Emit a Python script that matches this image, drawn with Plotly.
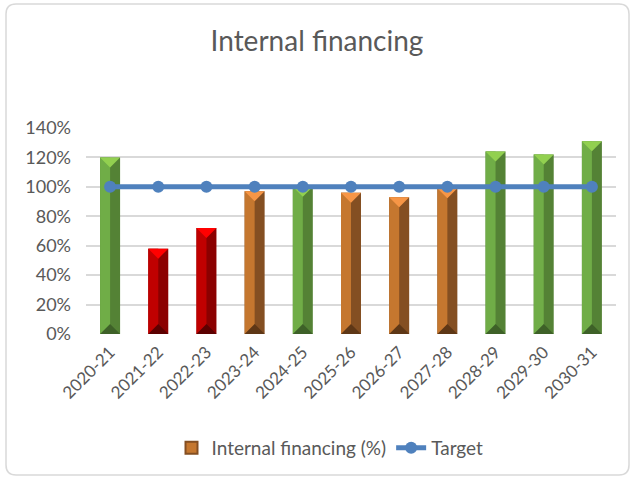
import plotly.graph_objects as go

categories = ["2020-21", "2021-22", "2022-23", "2023-24", "2024-25", "2025-26",
              "2026-27", "2027-28", "2028-29", "2029-30", "2030-31"]
internal_financing = [120, 58, 72, 97, 100, 96, 93, 99, 124, 122, 131]
target = [100, 100, 100, 100, 100, 100, 100, 100, 100, 100, 100]
y_ticks = [0, 20, 40, 60, 80, 100, 120, 140]
y_tick_labels = ["0%", "20%", "40%", "60%", "80%", "100%", "120%", "140%"]

W, H = 634, 479
ML, MR, MT, MB = 86, 18, 128, 145
BAR_W = 0.415
BEVEL = 6.8  # bevel height in y units

PALETTES = {
    "green": dict(left="#70AD47", right="#548235", top="#92D050", bottom="#3E6128"),
    "orange": dict(left="#C5772F", right="#844F22", top="#F79646", bottom="#5E3716"),
    "red": dict(left="#C00000", right="#8B0000", top="#FF0000", bottom="#5C0000"),
}


def group(v):
    if v >= 100:
        return "green"
    if v < 80:
        return "red"
    return "orange"


xs = list(range(len(categories)))
cols = [PALETTES[group(v)] for v in internal_financing]

fig = go.Figure()

# full bar body (right face colour)
fig.add_trace(go.Bar(
    x=xs, y=internal_financing, width=BAR_W, offset=-BAR_W / 2,
    marker=dict(color=[c["right"] for c in cols], line=dict(width=0)),
    showlegend=False, hoverinfo="skip"))
# left half (lighter face)
fig.add_trace(go.Bar(
    x=xs, y=internal_financing, width=BAR_W / 2, offset=-BAR_W / 2,
    marker=dict(color=[c["left"] for c in cols], line=dict(width=0)),
    showlegend=False, name="Internal financing (%)"))

# bevel triangles (top and bottom) derived from values
for xi, v, c in zip(xs, internal_financing, cols):
    fig.add_trace(go.Scatter(
        x=[xi - BAR_W / 2, xi + BAR_W / 2, xi, xi - BAR_W / 2],
        y=[v, v, v - BEVEL, v], fill="toself", fillcolor=c["top"],
        mode="lines", line=dict(width=0), showlegend=False, hoverinfo="skip"))
    fig.add_trace(go.Scatter(
        x=[xi - BAR_W / 2, xi + BAR_W / 2, xi, xi - BAR_W / 2],
        y=[0, 0, BEVEL, 0], fill="toself", fillcolor=c["bottom"],
        mode="lines", line=dict(width=0), showlegend=False, hoverinfo="skip"))

# legend entry for bars
fig.add_trace(go.Bar(
    x=[None], y=[None], name="Internal financing (%)",
    marker=dict(color="#C5772F", line=dict(color="#844F22", width=2))))

fig.add_trace(go.Scatter(
    x=xs, y=target, name="Target", mode="lines+markers",
    line=dict(color="#4F81BD", width=5),
    marker=dict(color="#4F81BD", size=12)))


def px_x(p):
    return (p - ML) / (W - ML - MR)


def px_y(p):
    return (H - MB - p) / (H - MT - MB)


# rounded chart border
x0, x1, y0, y1, r = px_x(6), px_x(629), px_y(4), px_y(475), 10
rx = r / (W - ML - MR)
ry = r / (H - MT - MB)
path = (f"M {x0 + rx},{y0} L {x1 - rx},{y0} Q {x1},{y0} {x1},{y0 - ry} "
        f"L {x1},{y1 + ry} Q {x1},{y1} {x1 - rx},{y1} L {x0 + rx},{y1} "
        f"Q {x0},{y1} {x0},{y1 + ry} L {x0},{y0 - ry} Q {x0},{y0} {x0 + rx},{y0} Z")
fig.add_shape(type="path", path=path, xref="paper", yref="paper",
              line=dict(color="#D9D9D9", width=1.5), layer="below")

FONT = "Lato, Open Sans, sans-serif"
fig.update_layout(
    width=W, height=H,
    margin=dict(l=ML, r=MR, t=MT, b=MB),
    paper_bgcolor="white", plot_bgcolor="white",
    barmode="overlay",
    font=dict(family=FONT, color="#595959", size=18),
    title=dict(text="Internal financing", x=0.5, xanchor="center",
               y=1 - 41 / H, yanchor="middle",
               font=dict(size=28, color="#595959", family=FONT)),
    xaxis=dict(range=[-0.5, len(categories) - 0.5], tickvals=xs,
               ticktext=categories, tickangle=-45, showgrid=False,
               zeroline=False, showline=False, ticks="",
               ticklabelstandoff=4,
               tickfont=dict(size=17, color="#595959")),
    yaxis=dict(range=[0, 140], tickvals=y_ticks, ticktext=y_tick_labels,
               showgrid=True, gridcolor="#D9D9D9", gridwidth=1.5,
               zeroline=False, showline=False, ticks="",
               ticklabelstandoff=14,
               tickfont=dict(size=18, color="#595959")),
    legend=dict(orientation="h", x=px_x(330), xanchor="center",
                y=px_y(448), yanchor="middle",
                font=dict(size=19, color="#595959"),
                traceorder="normal"),
    showlegend=True,
)

fig.write_html("out.html", post_script="document.body.style.margin='0';",
               config={"displayModeBar": False})
